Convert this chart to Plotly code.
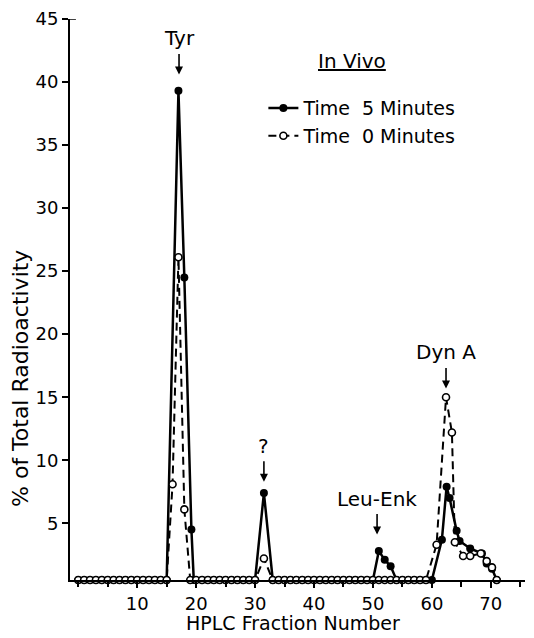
import plotly.graph_objects as go

# ---- data ----
# Time 5 minutes (filled circles, solid line)
t5_x = [0, 1, 2, 3, 4, 5, 6, 7, 8, 9, 10, 11, 12, 13, 14, 15,
        17, 18, 19.2, 19.6,
        21, 22, 23, 24, 25, 26, 27, 28, 29, 30,
        31.5,
        33, 34, 35, 36, 37, 38, 39, 40, 41, 42, 43, 44, 45, 46, 47, 48, 49, 50,
        51, 52, 53,
        54, 55, 56, 57, 58, 59, 60,
        61.7, 62.5, 63, 64.2, 64.7, 66.5, 68.5, 69.3, 70.2, 71]
t5_y = [0.5] * 16 + \
       [39.3, 24.5, 4.5, 0.5] + \
       [0.5] * 10 + \
       [7.4] + \
       [0.5] * 18 + \
       [2.8, 2.1, 1.6] + \
       [0.5] * 7 + \
       [3.7, 7.9, 7.0, 4.4, 3.6, 3.0, 2.6, 1.8, 1.4, 0.5]

# Time 0 minutes (open circles, dashed line)
t0_x = [0, 1, 2, 3, 4, 5, 6, 7, 8, 9, 10, 11, 12, 13, 14, 15,
        16, 17, 18,
        19, 20, 21, 22, 23, 24, 25, 26, 27, 28, 29, 30,
        31.5,
        33, 34, 35, 36, 37, 38, 39, 40, 41, 42, 43, 44, 45, 46, 47, 48, 49, 50,
        51, 52, 53, 54, 55, 56, 57, 58, 59,
        60.8, 62.4, 63.4, 63.9, 65.3, 66.5, 68.3, 69.3, 70.2, 71]
t0_y = [0.5] * 16 + \
       [8.1, 26.1, 6.1] + \
       [0.5] * 12 + \
       [2.2] + \
       [0.5] * 27 + \
       [3.3, 15.0, 12.2, 3.5, 2.4, 2.4, 2.6, 2.0, 1.5, 0.5]

x_ticks = [10, 20, 30, 40, 50, 60, 70]
y_ticks = [5, 10, 15, 20, 25, 30, 35, 40, 45]

# peak labels: (text, x, arrow tip y)
peak_labels = [("Tyr", 17.1, 40.6), ("?", 31.5, 8.3), ("Leu-Enk", 50.7, 4.1), ("Dyn A", 62.4, 15.7)]

FONT = "DejaVu Sans"

fig = go.Figure()
fig.add_trace(go.Scatter(
    x=t5_x, y=t5_y, mode="lines+markers", name="Time  5 Minutes",
    line=dict(color="black", width=2.5),
    marker=dict(symbol="circle", size=8, color="black"),
    cliponaxis=False,
))
fig.add_trace(go.Scatter(
    x=t0_x, y=t0_y, mode="lines+markers", name="Time  0 Minutes",
    line=dict(color="black", width=2, dash="8px,5px"),
    marker=dict(symbol="circle", size=7, color="white", line=dict(color="black", width=1.6)),
    cliponaxis=False,
))

for text, px, tip in peak_labels:
    fig.add_annotation(x=px, y=tip, ax=0, ay=-22, text="", showarrow=True,
                       arrowhead=2, arrowsize=1, arrowwidth=1.6, arrowcolor="black",
                       xref="x", yref="y")
    fig.add_annotation(x=px, y=tip, yshift=36, text=text, showarrow=False,
                       font=dict(family=FONT, size=20, color="black"),
                       xref="x", yref="y")

fig.add_annotation(x=0.620, y=0.925, xref="paper", yref="paper", text="<u>In Vivo</u>",
                   xanchor="center", yanchor="middle",
                   showarrow=False, font=dict(family=FONT, size=20, color="black"))

fig.add_annotation(x=-0.11, y=0.36, xref="paper", yref="paper",
                   xanchor="center", yanchor="middle",
                   text="% of Total Radioactivity", textangle=-90, showarrow=False,
                   font=dict(family=FONT, size=22, color="black"))

fig.add_annotation(x=0.49, y=-0.1, xref="paper", yref="paper",
                   xanchor="center", yanchor="bottom",
                   text="HPLC Fraction Number", showarrow=False,
                   font=dict(family=FONT, size=19, color="black"))

# small inward tick at the top of the y axis (as drawn in the reference)
fig.add_shape(type="line", xref="paper", yref="y", x0=0, x1=0.013, y0=45, y1=45,
              line=dict(color="black", width=1.5))

fig.update_layout(
    width=534, height=638,
    margin=dict(l=70, r=9, t=19, b=58, autoexpand=False),
    paper_bgcolor="white", plot_bgcolor="white",
    showlegend=True,
    legend=dict(x=0.425, y=0.875, xanchor="left", yanchor="top",
                font=dict(family=FONT, size=19, color="black"),
                bgcolor="rgba(0,0,0,0)", tracegroupgap=0, itemwidth=30),
    font=dict(family=FONT, color="black"),
)
fig.update_xaxes(
    range=[-1.4, 75.8], tickvals=x_ticks, ticks="outside", ticklen=6, tickwidth=1.5,
    tickcolor="black", showline=True, linecolor="black", linewidth=2,
    showgrid=False, zeroline=False, tickfont=dict(family=FONT, size=18, color="black"),
    minor=dict(dtick=5, tick0=0, ticks="outside", ticklen=5, tickcolor="black"),
    automargin=False,
)
fig.update_yaxes(
    range=[0.5, 45], tickvals=y_ticks, ticks="outside", ticklen=6, tickwidth=1.5,
    tickcolor="black", showline=True, linecolor="black", linewidth=2,
    showgrid=False, zeroline=False, tickfont=dict(family=FONT, size=18, color="black"),
    automargin=False,
)

fig.write_html("out.html", config={"displayModeBar": False},
               post_script="document.body.style.margin='0';document.body.style.padding='0';")
